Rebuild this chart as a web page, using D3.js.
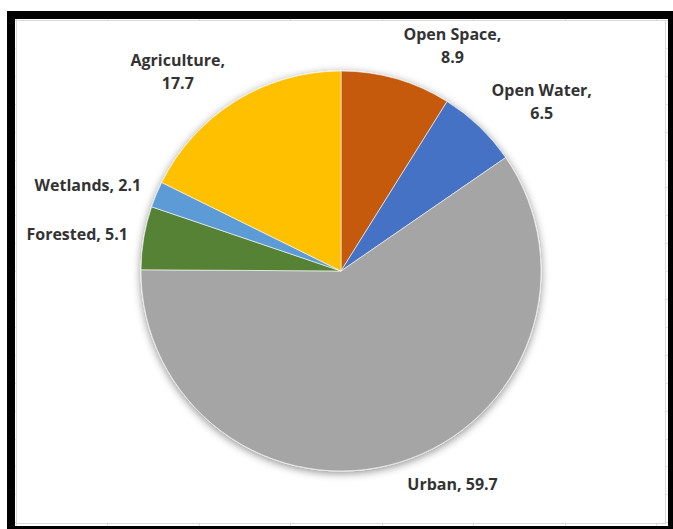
<!DOCTYPE html>
<html>
<head>
<meta charset="utf-8">
<script src="https://cdn.jsdelivr.net/npm/d3@7"></script>
<style>
  html, body { margin: 0; padding: 0; background: #fff; }
  svg { display: block; }
</style>
</head>
<body>
<svg id="chart" width="673" height="529"></svg>
<script>
// Land use shares (percent), clockwise from 12 o'clock
const categories = ["Open Space", "Open Water", "Urban", "Forested", "Wetlands", "Agriculture"];
const values     = [8.9, 6.5, 59.7, 5.1, 2.1, 17.7];
const colors     = ["#C55A11", "#4472C4", "#A5A5A5", "#548235", "#5B9BD5", "#FFC000"];

const W = 673, H = 529;
const svg = d3.select("#chart");

// Frame and sheet background
svg.append("rect").attr("x", 7).attr("y", 11).attr("width", W - 7).attr("height", H - 11).attr("fill", "#000");
const inner = { x: 15, y: 19, w: 668 - 15, h: 526 - 19 };
svg.append("rect").attr("x", inner.x).attr("y", inner.y).attr("width", inner.w).attr("height", inner.h).attr("fill", "#fff");

// Spreadsheet cell grid behind the chart area
const colStep = 91.5, rowStep = 27.9;
const grid = svg.append("g").attr("stroke", "#dcdcdc").attr("stroke-width", 1);
d3.range(15.5, inner.x + inner.w, colStep).forEach(x => {
  grid.append("line").attr("x1", Math.round(x) + 0.5).attr("x2", Math.round(x) + 0.5)
    .attr("y1", inner.y).attr("y2", inner.y + inner.h);
});
d3.range(20, inner.y + inner.h, rowStep).forEach(y => {
  grid.append("line").attr("y1", Math.round(y) + 0.5).attr("y2", Math.round(y) + 0.5)
    .attr("x1", inner.x).attr("x2", inner.x + inner.w);
});

// Chart area
svg.append("rect").attr("x", 16.5).attr("y", 20.5).attr("width", 649).attr("height", 503)
  .attr("fill", "#fff").attr("stroke", "#d9d9d9").attr("stroke-width", 1);

// Soft outer shadow for the pie
const defs = svg.append("defs");
const f = defs.append("filter").attr("id", "pieShadow")
  .attr("x", "-20%").attr("y", "-20%").attr("width", "140%").attr("height", "140%");
f.append("feDropShadow").attr("dx", 0).attr("dy", 2).attr("stdDeviation", 4)
  .attr("flood-color", "#000").attr("flood-opacity", 0.45);

const cx = 341, cy = 271, r = 200;
const data = categories.map((c, i) => ({ name: c, value: values[i], color: colors[i] }));

const pie = d3.pie().value(d => d.value).sort(null);
const arcs = pie(data);
const arc = d3.arc().innerRadius(0).outerRadius(r);

const g = svg.append("g").attr("transform", `translate(${cx},${cy})`);
g.append("g").attr("filter", "url(#pieShadow)")
  .selectAll("path").data(arcs).join("path")
  .attr("d", arc)
  .attr("fill", d => d.data.color)
  .attr("stroke", "#fff").attr("stroke-width", 0.6);

// Data labels placed outside the end of each slice
const fontSize = 16, lineH = 22.5, pad = 4;
const labels = g.append("g")
  .attr("font-family", "'Open Sans', 'Noto Sans', sans-serif")
  .attr("font-weight", 700).attr("font-size", fontSize).attr("fill", "#333");

arcs.forEach(a => {
  const full = `${a.data.name}, ${a.data.value.toFixed(1)}`;
  const lines = full.length > 14 ? [`${a.data.name},`, a.data.value.toFixed(1)] : [full];
  const t = labels.append("text").attr("text-anchor", "middle");
  lines.forEach((ln, i) => t.append("tspan").attr("x", 0).attr("y", i * lineH).text(ln));
  const bw = d3.max(t.selectAll("tspan").nodes(), n => n.getComputedTextLength());
  const bh = lines.length * lineH;
  const mid = (a.startAngle + a.endAngle) / 2;
  const pr = r + 12;
  const px = Math.sin(mid) * pr, py = -Math.cos(mid) * pr;
  const bx = px + Math.sign(Math.sin(mid)) * (bw / 2 + pad);
  const by = py - Math.cos(mid) * bh / 2;
  // vertically centre the block of lines on by
  const firstBase = by - bh / 2 + lineH / 2 + fontSize * 0.36;
  t.attr("transform", `translate(${bx},${firstBase})`);
});
</script>
</body>
</html>
